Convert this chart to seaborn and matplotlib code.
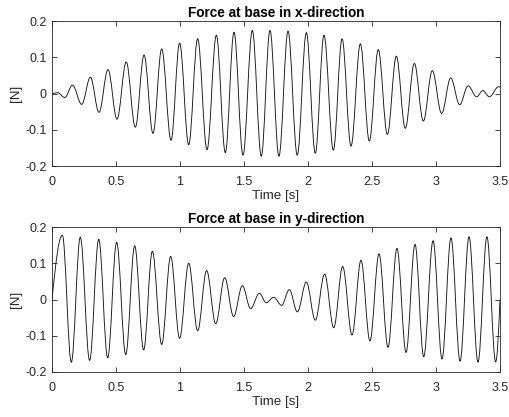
import numpy as np
import matplotlib
matplotlib.use("Agg")
import matplotlib.pyplot as plt
from matplotlib.path import Path
from matplotlib.patches import PathPatch
from matplotlib.ticker import FuncFormatter
import seaborn as sns

# ---- data (times and values of the successive extrema) ----
x_time = [0.0, 0.045, 0.100, 0.160, 0.232, 0.300, 0.367, 0.4375, 0.508, 0.580,
          0.651, 0.719, 0.789, 0.857, 0.930, 0.997, 1.068, 1.138, 1.211, 1.284,
          1.354, 1.422, 1.492, 1.565, 1.635, 1.703, 1.773, 1.844, 1.916, 1.987,
          2.057, 2.125, 2.198, 2.266, 2.336, 2.409, 2.479, 2.549, 2.620, 2.690,
          2.760, 2.831, 2.901, 2.971, 3.044, 3.115, 3.185, 3.250, 3.318, 3.365,
          3.417, 3.490, 3.500]
x_force = [0.0, 0.002, -0.011, 0.023, -0.030, 0.045, -0.052, 0.066, -0.071, 0.087,
           -0.093, 0.106, -0.110, 0.123, -0.129, 0.139, -0.141, 0.151, -0.155, 0.161,
           -0.163, 0.169, -0.170, 0.174, -0.173, 0.174, -0.173, 0.172, -0.170, 0.168,
           -0.165, 0.161, -0.156, 0.151, -0.145, 0.137, -0.131, 0.121, -0.113, 0.103,
           -0.096, 0.083, -0.076, 0.063, -0.055, 0.043, -0.031, 0.021, -0.009, 0.008,
           -0.009, 0.019, 0.017]

y_time = [0.0, 0.081, 0.151, 0.221, 0.294, 0.365, 0.435, 0.505, 0.576, 0.646,
          0.716, 0.784, 0.857, 0.927, 0.997, 1.068, 1.138, 1.208, 1.279, 1.349,
          1.419, 1.487, 1.552, 1.620, 1.674, 1.732, 1.794, 1.854, 1.917, 1.987,
          2.057, 2.130, 2.201, 2.271, 2.344, 2.414, 2.484, 2.555, 2.625, 2.695,
          2.766, 2.836, 2.904, 2.977, 3.047, 3.117, 3.188, 3.258, 3.328, 3.398,
          3.466, 3.500]
y_force = [0.0, 0.177, -0.173, 0.172, -0.168, 0.166, -0.161, 0.158, -0.152, 0.148,
           -0.139, 0.133, -0.124, 0.119, -0.107, 0.100, -0.086, 0.080, -0.067, 0.060,
           -0.047, 0.038, -0.025, 0.017, -0.009, 0.006, -0.016, 0.027, -0.034, 0.048,
           -0.057, 0.070, -0.078, 0.091, -0.098, 0.108, -0.114, 0.126, -0.132, 0.141,
           -0.146, 0.152, -0.158, 0.162, -0.164, 0.170, -0.170, 0.173, -0.173, 0.173,
           -0.172, 0.0]

titles = ["Force at base in x-direction", "Force at base in y-direction"]
x_label = "Time [s]"
y_label = "[N]"
x_ticks = [0, 0.5, 1, 1.5, 2, 2.5, 3, 3.5]
y_ticks = [-0.2, -0.1, 0, 0.1, 0.2]

# ---- style ----
sns.set_theme(style="white")
plt.rcParams["font.family"] = ["Liberation Sans", "DejaVu Sans"]
plt.rcParams["axes.unicode_minus"] = False
axis_col = "#262626"


def smooth_path(t, v):
    """Smooth curve through the extrema (zero slope at extrema, sine-like slope at
    zero crossings at the ends), drawn by matplotlib as cubic Bezier segments."""
    t = list(t)
    v = list(v)
    n = len(t)
    slopes = []
    for i in range(n):
        if 0 < i < n - 1:
            slopes.append(0.0)
        else:
            j = 1 if i == 0 else n - 2
            if abs(v[i]) < 0.005 and abs(v[j]) > 0.05:
                slopes.append(np.pi / 2 * (v[j] - v[i]) / (t[j] - t[i]))
            else:
                slopes.append(0.0)
    a = 0.3634
    verts = [(t[0], v[0])]
    codes = [Path.MOVETO]
    for i in range(n - 1):
        dt = t[i + 1] - t[i]
        verts += [(t[i] + a * dt, v[i] + slopes[i] * a * dt),
                  (t[i + 1] - a * dt, v[i + 1] - slopes[i + 1] * a * dt),
                  (t[i + 1], v[i + 1])]
        codes += [Path.CURVE4] * 3
    return Path(verts, codes)


fig = plt.figure(figsize=(5.09, 4.17), dpi=100)
fig.patch.set_facecolor("white")
ax1 = fig.add_axes([52 / 509, 1 - 166 / 417, 448 / 509, 145 / 417])
ax2 = fig.add_axes([52 / 509, 1 - 372 / 417, 448 / 509, 145 / 417])

series = [(x_time, x_force), (y_time, y_force)]
for ax, (tt, vv), title in zip([ax1, ax2], series, titles):
    patch = PathPatch(smooth_path(tt, vv), facecolor="none", edgecolor="#151515",
                      lw=0.65, transform=ax.transData)
    ax.add_patch(patch)
    ax.set_xlim(0, 3.5)
    ax.set_ylim(-0.2, 0.2)
    ax.set_xticks(x_ticks)
    ax.set_yticks(y_ticks)
    ax.xaxis.set_major_formatter(FuncFormatter(lambda val, pos: "%g" % val))
    ax.yaxis.set_major_formatter(FuncFormatter(lambda val, pos: "%g" % round(val, 3)))
    ax.tick_params(direction="in", length=3.5, width=0.6, colors=axis_col,
                   labelsize=9, top=True, right=True, bottom=True, left=True,
                   labelcolor=axis_col)
    ax.tick_params(axis="x", pad=7)
    ax.tick_params(axis="y", pad=4)
    for sp in ax.spines.values():
        sp.set_visible(True)
        sp.set_color(axis_col)
        sp.set_linewidth(0.6)
    ax.set_facecolor("white")
    ax.grid(False)
    ax.set_xlabel(x_label, fontsize=9.6, color=axis_col, labelpad=1.5)
    ax.set_ylabel(y_label, fontsize=9.6, color=axis_col, labelpad=2)
    ax.set_title(title, fontsize=9.8, fontweight="bold", color="black", pad=3)

fig.savefig("out.png", dpi=100, facecolor="white")
